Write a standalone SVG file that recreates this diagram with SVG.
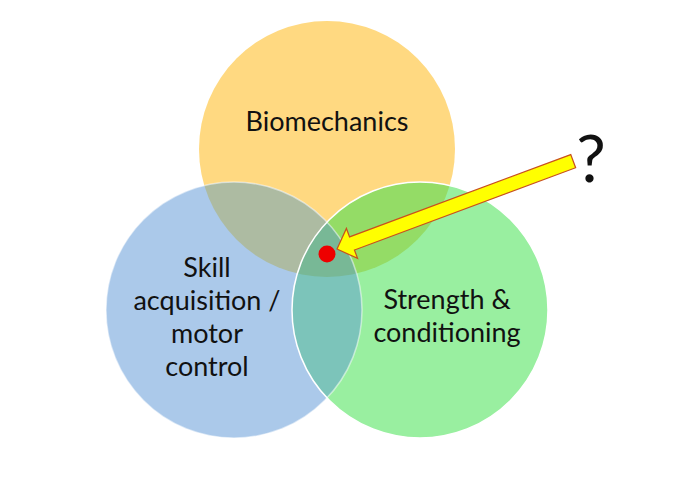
<svg xmlns="http://www.w3.org/2000/svg" width="680" height="485" viewBox="0 0 680 485">
  <style>
    .lbl { font-family: Lato, "Open Sans", sans-serif; font-size: 27px; fill: #111; text-anchor: middle; }
    .edge { fill: none; stroke: #ffffff; stroke-width: 1.5; }
  </style>
  <defs>
    <clipPath id="clipY"><circle cx="327" cy="149" r="128"/></clipPath>
    <clipPath id="clipB"><circle cx="234" cy="310" r="128"/></clipPath>
  </defs>
  <rect x="0" y="0" width="680" height="485" fill="#ffffff"/>

  <g id="node-biomechanics">
    <circle cx="327" cy="149" r="128" fill="#FFD981"/>
    <text class="lbl" x="327" y="131">Biomechanics</text>
  </g>
  <g id="node-skill">
    <circle cx="234" cy="310" r="128" fill="#ABC9EA"/>
    <text class="lbl" x="207" y="277">Skill</text>
    <text class="lbl" x="207" y="310">acquisition /</text>
    <text class="lbl" x="207" y="343">motor</text>
    <text class="lbl" x="207" y="376">control</text>
  </g>
  <g id="node-strength">
    <circle cx="420" cy="310" r="128" fill="#99EFA0"/>
    <text class="lbl" x="447" y="309">Strength &amp;</text>
    <text class="lbl" x="447" y="342">conditioning</text>
  </g>

  <g id="overlaps">
    <circle cx="234" cy="310" r="128" fill="#ADBBA2" clip-path="url(#clipY)"/>
    <circle cx="420" cy="310" r="128" fill="#94DC66" clip-path="url(#clipY)"/>
    <circle cx="420" cy="310" r="128" fill="#7CC4BA" clip-path="url(#clipB)"/>
    <g clip-path="url(#clipY)">
      <circle cx="420" cy="310" r="128" fill="#78B896" clip-path="url(#clipB)"/>
    </g>
  </g>

  <g id="edges">
    <circle class="edge" cx="234" cy="310" r="128" stroke-opacity="0.5"/>
    <circle class="edge" cx="420" cy="310" r="128"/>
  </g>

  <g id="connectors">
    <polygon transform="translate(337,249) rotate(-20.4)" points="0,0 16,-16 16,-7 252,-7 252,7 16,7 16,16" fill="#FFFF00" stroke="#C8501E" stroke-width="1.2" stroke-linejoin="miter"/>
  </g>

  <g id="marker-dot">
    <circle cx="327" cy="254" r="8.5" fill="#EE0000"/>
  </g>

  <g id="question">
    <text x="591" y="182" font-family="Lato, 'Open Sans', sans-serif" font-size="66" fill="#111" text-anchor="middle">?</text>
  </g>
</svg>
